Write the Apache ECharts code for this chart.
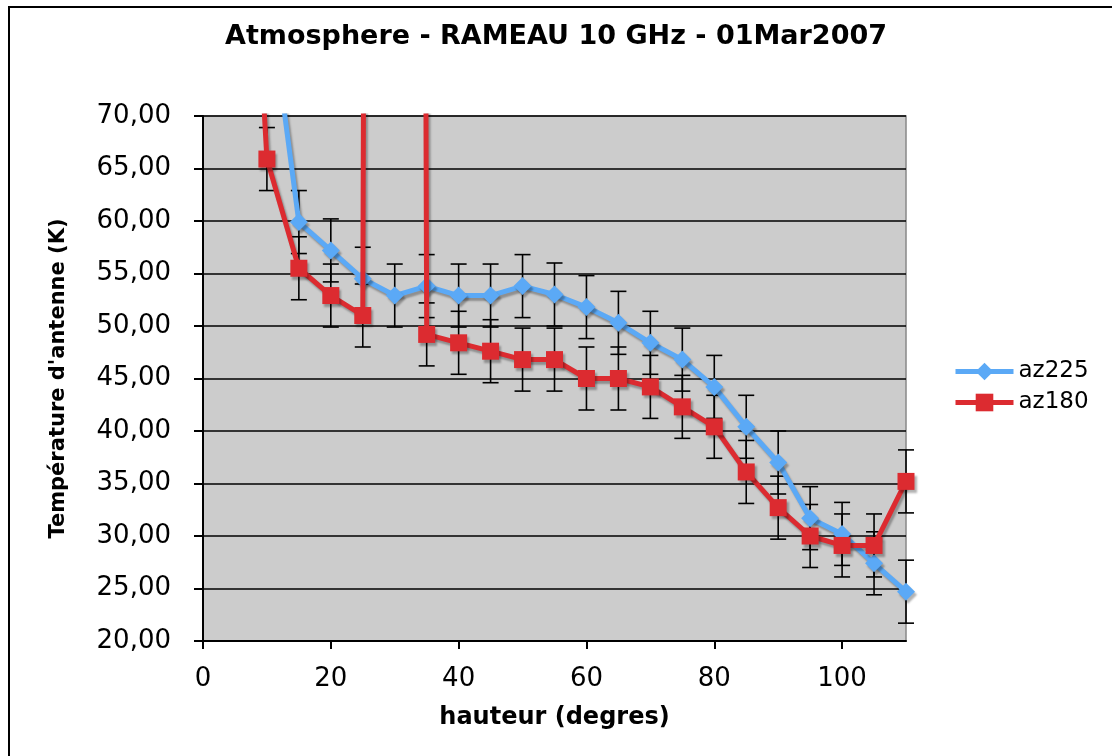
<!DOCTYPE html>
<html>
<head>
<meta charset="utf-8">
<title>Atmosphere - RAMEAU 10 GHz - 01Mar2007</title>
<script src="https://cdn.jsdelivr.net/npm/echarts@6/dist/echarts.min.js"></script>
<style>
  html, body { margin: 0; padding: 0; background: #fff; }
  #chart { width: 1112px; height: 756px; }
</style>
</head>
<body>
<div id="chart"></div>
<script>
// hauteur (degres)
var heights = [5, 10, 15, 20, 25, 30, 35, 40, 45, 50, 55, 60, 65, 70, 75, 80, 85, 90, 95, 100, 105, 110];
// antenna temperature (K)
var az225 = [null, 83, 59.9, 57.2, 54.5, 52.9, 53.8, 52.9, 52.9, 53.8, 53.0, 51.8, 50.3, 48.4, 46.8, 44.2, 40.4, 37.0, 31.7, 30.2, 27.4, 24.7];
var az180 = [120, 65.9, 55.5, 52.9, 51.0, 1000, 49.2, 48.4, 47.6, 46.8, 46.8, 45.0, 45.0, 44.2, 42.3, 40.4, 36.1, 32.7, 30.0, 29.1, 29.1, 35.2];
// error bar half-length (K)
var err225 = [3, 3, 3, 3, 3, 3, 3, 3, 3, 3, 3, 3, 3, 3, 3, 3, 3, 3, 3, 3, 3, 3];
var err180 = [3, 3, 3, 3, 3, 3, 3, 3, 3, 3, 3, 3, 3, 3, 3, 3, 3, 3, 3, 3, 3, 3];

var yMin = 20, yMax = 70;
var xMin = 0, xMax = 110;

var FONT = "'DejaVu Sans', Verdana, sans-serif";
var BLUE = '#5ba9f6';
var RED = '#dc2b30';

function points(vals) {
  var out = [];
  for (var i = 0; i < heights.length; i++) {
    if (vals[i] != null) out.push([heights[i], vals[i]]);
  }
  return out;
}

function errPoints(vals, errs) {
  var out = [];
  for (var i = 0; i < heights.length; i++) {
    if (vals[i] != null) out.push([heights[i], vals[i] - errs[i], vals[i] + errs[i]]);
  }
  return out;
}

function errorBar(params, api) {
  var x = api.value(0), lo = api.value(1), hi = api.value(2);
  if (lo > yMax || hi < yMin) return null;
  var style = { stroke: '#000', lineWidth: 1.6 };
  var half = 8;
  var top = api.coord([x, Math.min(hi, yMax)]);
  var bot = api.coord([x, Math.max(lo, yMin)]);
  var kids = [{ type: 'line', shape: { x1: top[0], y1: top[1], x2: bot[0], y2: bot[1] }, style: style }];
  if (hi <= yMax) kids.push({ type: 'line', shape: { x1: top[0] - half, y1: top[1], x2: top[0] + half, y2: top[1] }, style: style });
  if (lo >= yMin) kids.push({ type: 'line', shape: { x1: bot[0] - half, y1: bot[1], x2: bot[0] + half, y2: bot[1] }, style: style });
  return { type: 'group', children: kids };
}

var shadow = { shadowColor: 'rgba(0,0,0,0.3)', shadowBlur: 2, shadowOffsetX: 2, shadowOffsetY: 3 };

var chart = echarts.init(document.getElementById('chart'));
chart.setOption({
  animation: false,
  graphic: [{
    type: 'rect', silent: true, z: -10,
    shape: { x: 9, y: 7, width: 1200, height: 800 },
    style: { fill: null, stroke: '#000', lineWidth: 2 }
  }],
  title: {
    text: 'Atmosphere - RAMEAU 10 GHz - 01Mar2007',
    left: 'center',
    top: 18,
    textStyle: { fontFamily: FONT, fontSize: 27, fontWeight: 'bold', color: '#000' }
  },
  legend: {
    data: ['az225', 'az180'],
    orient: 'vertical',
    left: 948,
    top: 355,
    itemWidth: 58,
    itemHeight: 22,
    itemGap: 8,
    lineStyle: { width: 5 },
    textStyle: { fontFamily: FONT, fontSize: 23, color: '#000' }
  },
  grid: {
    left: 203, right: 206, top: 116, bottom: 115,
    show: true,
    backgroundColor: '#cccccc',
    borderColor: '#888',
    borderWidth: 1.5
  },
  xAxis: {
    type: 'value',
    min: xMin, max: xMax, interval: 20,
    name: 'hauteur (degres)',
    nameLocation: 'middle',
    nameGap: 65,
    nameTextStyle: { fontFamily: FONT, fontSize: 24, fontWeight: 'bold', color: '#000' },
    axisLine: { show: true, lineStyle: { color: '#000', width: 2 } },
    axisTick: { show: true, inside: false, length: 8, lineStyle: { color: '#000', width: 2 } },
    axisLabel: {
      margin: 25, fontFamily: FONT, fontSize: 26, color: '#000',
      showMaxLabel: false,
      formatter: function (v) { return v > 100 ? '' : String(v); }
    },
    splitLine: { show: false }
  },
  yAxis: {
    type: 'value',
    min: yMin, max: yMax, interval: 5,
    name: "Température d'antenne (K)",
    nameLocation: 'middle',
    nameGap: 134,
    nameTextStyle: { fontFamily: FONT, fontSize: 21, fontWeight: 'bold', color: '#000' },
    axisLine: { show: true, lineStyle: { color: '#000', width: 2 } },
    axisTick: { show: true, inside: false, length: 9, lineStyle: { color: '#000', width: 2 } },
    axisLabel: {
      margin: 32, fontFamily: FONT, fontSize: 26, color: '#000',
      formatter: function (v) { return v.toFixed(2).replace('.', ','); }
    },
    splitLine: { show: true, lineStyle: { color: '#000', width: 1.6 } }
  },
  series: [
    {
      name: 'err225', type: 'custom', z: 2, silent: true,
      renderItem: errorBar,
      encode: { x: 0, y: [1, 2] },
      data: errPoints(az225, err225)
    },
    {
      name: 'err180', type: 'custom', z: 2, silent: true,
      renderItem: errorBar,
      encode: { x: 0, y: [1, 2] },
      data: errPoints(az180, err180)
    },
    {
      name: 'az225', type: 'line', z: 3,
      data: points(az225),
      symbol: 'diamond', symbolSize: 18,
      lineStyle: Object.assign({ color: BLUE, width: 5 }, shadow),
      itemStyle: Object.assign({ color: BLUE }, shadow),
      clip: true
    },
    {
      name: 'az180', type: 'line', z: 4,
      data: points(az180),
      symbol: 'rect', symbolSize: 17,
      lineStyle: Object.assign({ color: RED, width: 5 }, shadow),
      itemStyle: Object.assign({ color: RED }, shadow),
      clip: true
    }
  ]
});
</script>
</body>
</html>
